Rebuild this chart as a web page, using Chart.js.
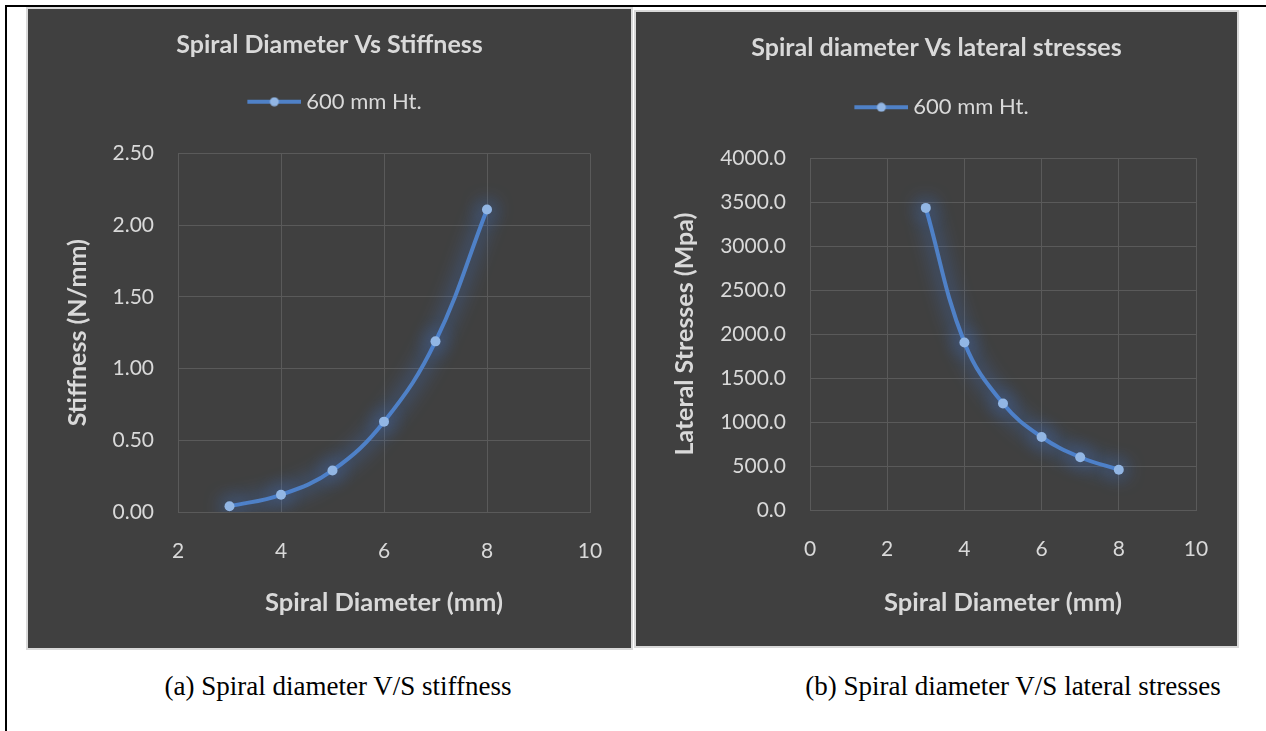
<!DOCTYPE html>
<html>
<head>
<meta charset="utf-8">
<script src="https://cdn.jsdelivr.net/npm/chart.js@4.4.1/dist/chart.umd.min.js"></script>
<style>
  body { margin: 0; background: #fff; width: 1266px; height: 731px; position: relative; overflow: hidden; }
  .rule-top { position: absolute; left: 5px; top: 5px; width: 1261px; height: 2px; background: #000; }
  .rule-left { position: absolute; left: 5px; top: 5px; width: 2px; height: 726px; background: #000; }
  .panel { position: absolute; background: #404040; border: 2px solid #d9d9d9; }
  .panel canvas { display: block; }
  #panelA { left: 26px; top: 7px; }
  #panelB { left: 634px; top: 10px; }
  .caption { position: absolute; top: 671px; font-family: "Liberation Serif", serif; font-size: 27px; color: #000; white-space: nowrap; transform: translateX(-50%); }
  .preload { position: absolute; left: -9999px; font-family: Lato; }
</style>
</head>
<body>
<div class="rule-top"></div>
<div class="rule-left"></div>
<div class="preload">600 mm Ht. <b>Spiral</b></div>
<div class="panel" id="panelA"><canvas id="stiffChart" width="603" height="639"></canvas></div>
<div class="panel" id="panelB"><canvas id="stressChart" width="601" height="634"></canvas></div>
<div class="caption" style="left:338px">(a) Spiral diameter V/S stiffness</div>
<div class="caption" style="left:1013px">(b) Spiral diameter V/S lateral stresses</div>

<script>
// data
const seriesName = '600 mm Ht.';
const stiffDiameter = [3, 4, 5, 6, 7, 8];
const stiffness = [0.04, 0.12, 0.29, 0.63, 1.19, 2.11];
const stressDiameter = [3, 4, 5, 6, 7, 8];
const lateralStress = [3435, 1905, 1210, 830, 600, 458];

const stiffXTicks = [2, 4, 6, 8, 10];
const stiffYTicks = [0, 0.5, 1, 1.5, 2, 2.5];
const stressXTicks = [0, 2, 4, 6, 8, 10];
const stressYTicks = [0, 500, 1000, 1500, 2000, 2500, 3000, 3500, 4000];

const textColor = '#d9d9d9';
const gridColor = '#5a5a5a';
const lineColor = '#4f81c7';
const markerColor = '#92b6e4';
const fontFamily = 'Lato';

// soft blue glow like the excel theme
const glowPlugin = {
  id: 'glow',
  beforeDatasetsDraw(chart) {
    chart.ctx.save();
    chart.ctx.shadowColor = 'rgba(65, 130, 240, 1)';
    chart.ctx.shadowBlur = 20;
  },
  afterDatasetsDraw(chart) {
    chart.ctx.restore();
  }
};

// line-with-marker swatch; left part of the canvas is empty so the text gap stays small
function legendMark() {
  const c = document.createElement('canvas');
  c.width = 70;
  c.height = 10;
  const g = c.getContext('2d');
  g.strokeStyle = lineColor;
  g.lineWidth = 4;
  g.beginPath();
  g.moveTo(16, 5);
  g.lineTo(70, 5);
  g.stroke();
  g.fillStyle = markerColor;
  g.beginPath();
  g.arc(43, 5, 4.5, 0, Math.PI * 2);
  g.fill();
  return c;
}

function makeChart(canvasId, o) {
  const mark = legendMark();
  return new Chart(document.getElementById(canvasId), {
    type: 'scatter',
    data: {
      datasets: [{
        label: seriesName,
        data: o.xs.map((x, i) => ({ x: x, y: o.ys[i] })),
        showLine: true,
        borderColor: lineColor,
        borderWidth: 4,
        tension: 0.4,
        pointRadius: 5,
        pointBackgroundColor: markerColor,
        pointBorderWidth: 0
      }]
    },
    options: {
      responsive: false,
      animation: false,
      layout: { padding: 0 },
      plugins: {
        title: {
          display: true,
          text: o.title,
          color: textColor,
          font: { family: fontFamily, size: 25, weight: 'bold' },
          padding: { top: o.titleTop, bottom: o.titleBottom }
        },
        legend: {
          display: true,
          position: 'top',
          labels: {
            color: textColor,
            font: { family: fontFamily, size: 22 },
            usePointStyle: true,
            pointStyleWidth: 58,
            padding: 10,
            generateLabels: chart => Chart.defaults.plugins.legend.labels.generateLabels(chart)
              .map(l => Object.assign(l, { pointStyle: mark }))
          }
        },
        // blank gap between the legend and the plot
        subtitle: {
          display: true,
          text: '',
          weight: 500,
          font: { size: 1, lineHeight: 1 },
          padding: { top: o.gap, bottom: 0 }
        },
        tooltip: { enabled: false }
      },
      scales: {
        x: {
          type: 'linear',
          min: o.xTicks[0],
          max: o.xTicks[o.xTicks.length - 1],
          afterBuildTicks: s => { s.ticks = o.xTicks.map(v => ({ value: v })); },
          ticks: { color: textColor, font: { family: fontFamily, size: 21 }, padding: 27 },
          grid: { color: gridColor, drawTicks: false },
          border: { color: gridColor },
          title: {
            display: true,
            text: 'Spiral Diameter (mm)',
            color: textColor,
            font: { family: fontFamily, size: 25.5, weight: 'bold' },
            padding: { top: 0, bottom: o.xTitleBottom }
          },
          // right inset of the plot, keeps title and legend centred on the whole panel
          afterFit: s => {
            s.height = o.xHeight;
            s.paddingRight = o.plotRight;
          }
        },
        y: {
          min: o.yTicks[0],
          max: o.yTicks[o.yTicks.length - 1],
          afterBuildTicks: s => { s.ticks = o.yTicks.map(v => ({ value: v })); },
          ticks: {
            color: textColor,
            font: { family: fontFamily, size: 21 },
            padding: 24,
            callback: v => v.toFixed(o.decimals)
          },
          grid: { color: gridColor, drawTicks: false },
          border: { color: gridColor },
          title: {
            display: true,
            text: o.yTitle,
            color: textColor,
            font: { family: fontFamily, size: 25, weight: 'bold' },
            padding: { top: o.yTitleLeft, bottom: 0 }
          },
          afterFit: s => { s.width = o.yWidth; }
        }
      }
    },
    plugins: [glowPlugin]
  });
}

const charts = [
  makeChart('stiffChart', {
    xs: stiffDiameter, ys: stiffness,
    xTicks: stiffXTicks, yTicks: stiffYTicks, decimals: 2,
    title: 'Spiral Diameter Vs Stiffness',
    yTitle: 'Stiffness (N/mm)',
    titleTop: 21, titleBottom: 20.7, gap: 29.8,
    xHeight: 136, yWidth: 150, plotRight: 41,
    xTitleBottom: 30, yTitleLeft: 35
  }),
  makeChart('stressChart', {
    xs: stressDiameter, ys: lateralStress,
    xTicks: stressXTicks, yTicks: stressYTicks, decimals: 1,
    title: 'Spiral diameter Vs lateral stresses',
    yTitle: 'Lateral Stresses (Mpa)',
    titleTop: 20.7, titleBottom: 23.5, gap: 29,
    xHeight: 136, yWidth: 174, plotRight: 41,
    xTitleBottom: 28, yTitleLeft: 34
  })
];

// legend widths are measured with the font, so redo once Lato is ready
Promise.all([
  document.fonts.load('22px Lato'),
  document.fonts.load('bold 25px Lato')
]).then(() => charts.forEach(c => c.update()));
</script>
</body>
</html>
